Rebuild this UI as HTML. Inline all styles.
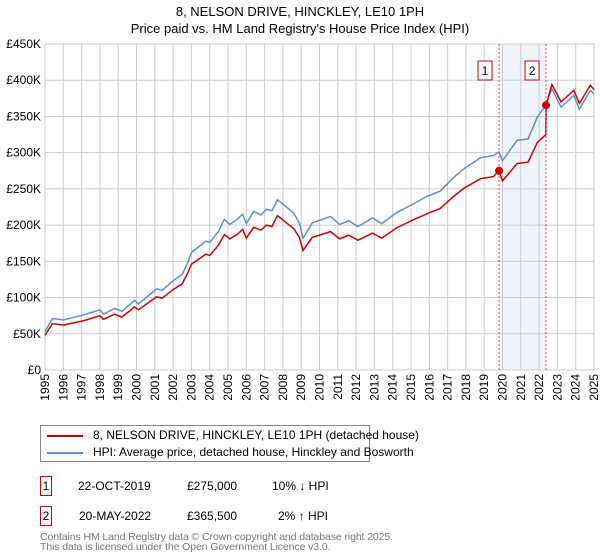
<!DOCTYPE html>
<html><head><meta charset="utf-8"><style>
body{margin:0;background:#fff;font-family:"Liberation Sans","DejaVu Sans",sans-serif;}
#wrap{position:relative;width:600px;height:560px;overflow:hidden}
.t{position:absolute;font-size:12px;color:#000;white-space:nowrap}
</style></head><body><div id="wrap">
<div class="t" style="left:0;width:600px;text-align:center;top:4px;font-size:13px">8, NELSON DRIVE, HINCKLEY, LE10 1PH</div>
<div class="t" style="left:0;width:600px;text-align:center;top:21px;font-size:13px">Price paid vs. HM Land Registry's House Price Index (HPI)</div>
<svg id="chart" width="600" height="410" style="position:absolute;left:0;top:0" font-family="Liberation Sans, DejaVu Sans, sans-serif" font-size="12"></svg>
<div style="position:absolute;left:40px;top:425px;width:328px;height:35px;border:1px solid #888">
 <div class="t" style="left:6px;top:2px"><span style="display:inline-block;width:36px;height:2px;background:#cc0000;vertical-align:middle;margin-right:10px"></span>8, NELSON DRIVE, HINCKLEY, LE10 1PH (detached house)</div>
 <div class="t" style="left:6px;top:19px"><span style="display:inline-block;width:36px;height:2px;background:#5b8fd6;vertical-align:middle;margin-right:10px"></span>HPI: Average price, detached house, Hinckley and Bosworth</div>
</div>
<div class="t" style="left:40px;top:476px;width:10px;height:18px;border:1px solid #cc0000;text-align:center;line-height:18px">1</div>
<div class="t" style="left:78px;top:479px">22-OCT-2019</div>
<div class="t" style="left:187px;top:479px">£275,000</div>
<div class="t" style="left:272px;top:479px">10% ↓ HPI</div>
<div class="t" style="left:40px;top:506px;width:10px;height:18px;border:1px solid #cc0000;text-align:center;line-height:18px">2</div>
<div class="t" style="left:79px;top:509px">20-MAY-2022</div>
<div class="t" style="left:187px;top:509px">£365,500</div>
<div class="t" style="left:278px;top:509px">2% ↑ HPI</div>
<div class="t" style="left:40px;top:531px;color:#777;font-size:10.5px;letter-spacing:-0.1px">Contains HM Land Registry data © Crown copyright and database right 2025.</div>
<div class="t" style="left:40px;top:541px;color:#777;font-size:10.5px;letter-spacing:-0.1px">This data is licensed under the Open Government Licence v3.0.</div>
</div>
<script>
const hpiYears=[1995.0,1995.4,1996.0,1997.1,1998.0,1998.2,1998.8,1999.2,1999.9,2000.1,2001.1,2001.4,2002.0,2002.5,2002.8,2003.0,2003.8,2004.0,2004.5,2004.8,2005.1,2005.5,2005.8,2006.0,2006.4,2006.8,2007.1,2007.4,2007.7,2008.2,2008.6,2008.9,2009.1,2009.6,2010.6,2011.1,2011.6,2012.1,2012.9,2013.4,2014.2,2015.1,2015.9,2016.6,2017.3,2017.9,2018.8,2019.5,2019.8,2020.0,2020.8,2021.4,2021.9,2022.3,2022.7,2023.2,2023.9,2024.2,2024.8,2025.0];
const hpiValues=[53,71,69,76,83,77,85,81,96,91,112,110,123,132,148,162,178,176,192,208,201,208,215,202,219,214,222,220,235,225,216,203,182,203,212,201,206,198,210,202,217,229,240,247,265,278,293,296,301,289,317,319,349,363,388,363,379,360,386,381];
const priceYears=[1995.0,1995.4,1996.0,1997.1,1998.0,1998.2,1998.8,1999.2,1999.9,2000.1,2001.1,2001.4,2002.0,2002.5,2002.8,2003.0,2003.8,2004.0,2004.5,2004.8,2005.1,2005.5,2005.8,2006.0,2006.4,2006.8,2007.1,2007.4,2007.7,2008.2,2008.6,2008.9,2009.1,2009.6,2010.6,2011.1,2011.6,2012.1,2012.9,2013.4,2014.2,2015.1,2015.9,2016.6,2017.3,2017.9,2018.8,2019.5,2019.81,2020.0,2020.8,2021.4,2021.9,2022.37,2022.38,2022.7,2023.2,2023.9,2024.2,2024.8,2025.0];
const priceValues=[48,64,62,68,75,70,77,73,87,83,101,99,111,119,134,146,160,158,173,187,181,187,194,182,197,193,200,198,213,203,195,183,165,183,191,181,186,179,189,182,196,207,216,223,239,251,264,267,275,261,285,287,314,325,365.5,394,370,386,368,393,387];
const saleYears=[2019.81,2022.38];
const saleValues=[275,365.5];
const saleLabels=["1","2"];
const yTicks=[0,50,100,150,200,250,300,350,400,450];
const yTickLabels=["£0","£50K","£100K","£150K","£200K","£250K","£300K","£350K","£400K","£450K"];
const xTicks=[1995,1996,1997,1998,1999,2000,2001,2002,2003,2004,2005,2006,2007,2008,2009,2010,2011,2012,2013,2014,2015,2016,2017,2018,2019,2020,2021,2022,2023,2024,2025];

const X0=45,X1=594,Y0=370,Y1=44;
const xs=y=>X0+(y-1995)/(2025-1995)*(X1-X0);
const ys=v=>Y0-v/450*(Y0-Y1);
const svg=document.getElementById('chart');
const NS='http://www.w3.org/2000/svg';
function mk(tag,attrs,parent){const e=document.createElementNS(NS,tag);for(const k in attrs)e.setAttribute(k,attrs[k]);(parent||svg).appendChild(e);return e;}

const shade=mk('rect',{x:xs(saleYears[0]),y:Y1,width:xs(saleYears[1])-xs(saleYears[0]),height:Y0-Y1,fill:'#eef3fc'});



xTicks.forEach(t=>{
 const l=mk('line',{x1:xs(t),x2:xs(t),y1:Y1,y2:Y0,stroke:'#cccccc','stroke-width':1});
 
 
 const tx=mk('text',{x:0,y:0,transform:`translate(${xs(t)+4},${Y0+4}) rotate(-90)`,'text-anchor':'end',fill:'#000'});
 tx.textContent=t;
 
 
});
yTicks.forEach((t,i)=>{
 const l=mk('line',{x1:X0,x2:X1,y1:ys(t),y2:ys(t),stroke:'#cccccc','stroke-width':1});
 
 
 const tx=mk('text',{x:X0-4,y:ys(t)+4,'text-anchor':'end',fill:'#000'});
 tx.textContent=yTickLabels[i];
 
 
});

const hp=mk('polyline',{points:hpiYears.map((y,i)=>xs(y)+','+ys(hpiValues[i])).join(' '),fill:'none',stroke:'#5b8fd6','stroke-width':1.5});


const pp=mk('polyline',{points:priceYears.map((y,i)=>xs(y)+','+ys(priceValues[i])).join(' '),fill:'none',stroke:'#cc0000','stroke-width':1.5});



saleYears.forEach((y,i)=>{
 const l=mk('line',{x1:xs(y),x2:xs(y),y1:Y1,y2:Y0,stroke:'#e05050','stroke-width':1,'stroke-dasharray':'2,2'});
 
 
 const c=mk('circle',{cx:xs(y),cy:ys(saleValues[i]),r:4,fill:'#cc0000'});
 
 
 const b=mk('rect',{x:xs(y)-21,y:61,width:14,height:19,fill:'#fff',stroke:'#cc0000'});
 
 
 const t=mk('text',{x:xs(y)-14,y:75,'text-anchor':'middle',fill:'#000'});
 t.textContent=saleLabels[i];
 
 
});
</script>
</body></html>
